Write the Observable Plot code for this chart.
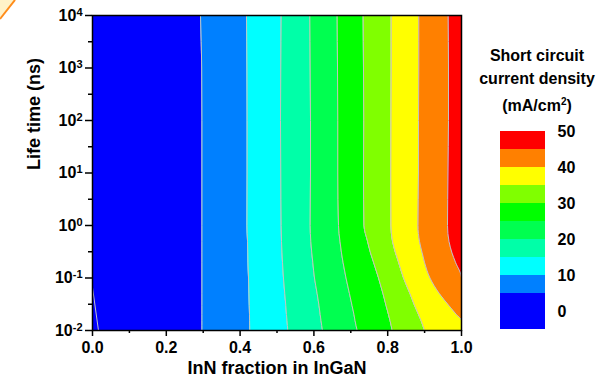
<!DOCTYPE html>
<html><head><meta charset="utf-8">
<script src="https://cdn.jsdelivr.net/npm/d3@7"></script>
<script src="https://cdn.jsdelivr.net/npm/@observablehq/plot@0.6"></script>
<style>
body{margin:0;background:#fff;color:#000;font-family:"Liberation Sans",Arial,sans-serif;}
#wrap{position:relative;width:609px;height:383px;overflow:hidden;}
#main,#legend{position:absolute;top:0;}
#main{left:0}
#legend{left:490px}
#ltitle{position:absolute;left:467px;width:140px;top:44px;text-align:center;font-weight:bold;font-size:16px;line-height:23px;}
#ltitle sup{font-size:10px;}
#deco{position:absolute;left:0;top:0;}
</style></head><body>
<div id="wrap">
<div id="main"></div><div id="legend"></div>
<div id="ltitle">Short circuit<br>current density<br>(mA/cm<sup>2</sup>)</div>
<svg id="deco" width="20" height="22"><polygon points="0,0 15,0 0,19" fill="#fff2c8"/><line x1="0" y1="19" x2="15" y2="0" stroke="#ff8c1a" stroke-width="2"/></svg>
</div>
<script>
// Life time samples (ns)
const lifetime = [1e4, 1e3, 1e2, 1e1, 1, 0.5, 0.3, 0.2, 0.1, 0.05, 0.03, 0.02, 0.0155, 0.01];
// InN fraction of each contour boundary (level in mA/cm2) at those life times
const b05 = [0.2927, 0.2960, 0.2967, 0.2967, 0.2967, 0.2967, 0.2967, 0.2967, 0.2967, 0.2967, 0.2967, 0.2967, 0.2967, 0.2967];
const b10 = [0.4173, 0.4187, 0.4192, 0.4192, 0.4187, 0.4201, 0.4209, 0.4214, 0.4228, 0.4241, 0.4249, 0.4255, 0.4257, 0.4263];
const b15 = [0.5114, 0.5103, 0.5095, 0.5103, 0.5114, 0.5122, 0.5136, 0.5149, 0.5176, 0.5211, 0.5238, 0.5257, 0.5271, 0.5293];
const b20 = [0.5889, 0.5900, 0.5908, 0.5908, 0.5900, 0.5916, 0.5943, 0.5970, 0.6016, 0.6089, 0.6138, 0.6171, 0.6192, 0.6233];
const b25 = [0.6631, 0.6640, 0.6648, 0.6648, 0.6667, 0.6707, 0.6748, 0.6789, 0.6870, 0.6965, 0.7033, 0.7087, 0.7114, 0.7173];
const b30 = [0.7336, 0.7344, 0.7352, 0.7344, 0.7358, 0.7453, 0.7534, 0.7615, 0.7751, 0.7873, 0.7954, 0.8022, 0.8062, 0.8122];
const b35 = [0.8095, 0.8095, 0.8089, 0.8084, 0.8089, 0.8130, 0.8211, 0.8293, 0.8428, 0.8604, 0.8726, 0.8835, 0.8902, 0.8997];
const b40 = [0.8843, 0.8843, 0.8835, 0.8835, 0.8821, 0.8862, 0.8935, 0.8997, 0.9146, 0.9404, 0.9656, 0.9864, 1.0, 1.0];
const b45 = [0.9640, 0.9648, 0.9648, 0.9634, 0.9621, 0.9661, 0.9743, 0.9837, 1.0, 1.0, 1.0, 1.0, 1.0, 1.0];
// small contour in lower-left corner
const cornerX = [0.0, 0.016];
const cornerT = [0.066, 0.0102];

const boundaries = [b05, b10, b15, b20, b25, b30, b35, b40, b45];
const bandColors = ["#0000ff", "#0080ff", "#00ffff", "#00ffa8", "#00ff50", "#00ff00", "#80ff00", "#ffff00", "#ff8000", "#ff0000"];
// legend
const legendLo = [-5, 5, 10, 15, 20, 25, 30, 35, 40, 45];
const legendHi = [5, 10, 15, 20, 25, 30, 35, 40, 45, 50];
const legendTicks = [0, 10, 20, 30, 40, 50];
const xTicks = [0, 0.2, 0.4, 0.6, 0.8, 1.0];
const xMinor = [0.1, 0.3, 0.5, 0.7, 0.9];
const yTicks = [1e-2, 1e-1, 1e0, 1e1, 1e2, 1e3, 1e4];
const yMinor = [-1.5, -0.5, 0.5, 1.5, 2.5, 3.5].map(e => Math.pow(10, e));

const zeros = lifetime.map(() => 0);
const ones = lifetime.map(() => 1);
const edges = [zeros, ...boundaries, ones];
const font = "'Liberation Sans', Arial, sans-serif";

const bandMarks = bandColors.map((c, i) =>
  Plot.areaX(lifetime, {y: lifetime, x1: edges[i], x2: edges[i + 1], fill: c, curve: "monotone-y", clip: true}));
const lineMarks = boundaries.map(b =>
  Plot.line(lifetime, {x: b, y: lifetime, stroke: "#c4c4c4", strokeWidth: 1, curve: "monotone-y", clip: true}));

const chart = Plot.plot({
  width: 609, height: 383,
  marginLeft: 92, marginRight: 148, marginTop: 15, marginBottom: 53,
  x: {domain: [0, 1]},
  y: {type: "log", domain: [0.01, 1e4]},
  style: {fontFamily: font, fontSize: "16px", fontWeight: "bold", color: "black", background: "transparent"},
  marks: [
    ...bandMarks,
    ...lineMarks,
    Plot.line(cornerX, {x: cornerX, y: cornerT, stroke: "#c4c4c4", strokeWidth: 1, clip: true}),
    Plot.frame({stroke: "black", strokeWidth: 1.5}),
    Plot.axisX({ticks: xTicks, tickFormat: d3.format(".1f"), tickSize: 6, tickPadding: 5, strokeWidth: 1.5, fontSize: 16, fontWeight: "bold", label: null}),
    Plot.axisX({ticks: xMinor, tickFormat: () => "", tickSize: 3, strokeWidth: 1.5, label: null}),
    Plot.axisY({ticks: yTicks, tickFormat: d => "10^" + Math.round(Math.log10(d)), tickSize: 7, tickPadding: 3, strokeWidth: 1.5, fontSize: 16, fontWeight: "bold", label: null}),
    Plot.axisY({ticks: yMinor, tickFormat: () => "", tickSize: 4, strokeWidth: 1.5, label: null}),
    Plot.text(["InN fraction in InGaN"], {frameAnchor: "bottom", dy: 43, fontSize: 18, fontWeight: "bold"}),
    Plot.text(["Life time (ns)"], {frameAnchor: "left", dx: -58, dy: -3, rotate: -90, fontSize: 18, fontWeight: "bold"})
  ]
});
chart.querySelectorAll('g[aria-label="y-axis tick label"] text').forEach(t => {
  const s = t.textContent;
  if (!s.includes("^")) return;
  const [b, e] = s.split("^");
  t.textContent = b;
  const ts = document.createElementNS("http://www.w3.org/2000/svg", "tspan");
  ts.setAttribute("dy", "-5");
  ts.setAttribute("font-size", "11px");
  ts.textContent = e;
  t.appendChild(ts);
});
document.getElementById("main").appendChild(chart);

const legend = Plot.plot({
  width: 119, height: 383,
  marginLeft: 10, marginRight: 64, marginTop: 131, marginBottom: 54,
  x: {domain: [0, 1], axis: null},
  y: {domain: [-5, 50], axis: null},
  color: {type: "identity"},
  style: {fontFamily: font, fontSize: "16px", fontWeight: "bold", color: "black", background: "transparent"},
  marks: [
    Plot.rect(legendLo, {x1: 0, x2: 1, y1: legendLo, y2: legendHi, fill: bandColors}),
    Plot.axisY({anchor: "right", ticks: legendTicks, tickSize: 0, tickPadding: 12, fontSize: 16, fontWeight: "bold", label: null})
  ]
});
document.getElementById("legend").appendChild(legend);
</script>
</body></html>
